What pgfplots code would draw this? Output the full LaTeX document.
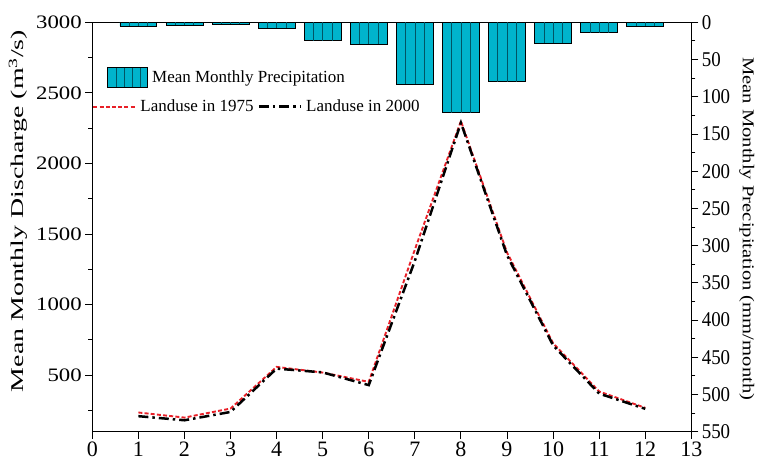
\documentclass[border=0pt]{standalone}
\usepackage{fontspec}
\setmainfont{Liberation Serif}
\newfontfamily\stA{Liberation Serif}[FakeStretch=1.2]
\newfontfamily\stL{Liberation Serif}[FakeStretch=1.55]
\newfontfamily\stR{Liberation Serif}[FakeStretch=1.25]
\newfontfamily\stT{Liberation Serif}[FakeStretch=0.9]
\usepackage{pgfplots}
\pgfplotsset{compat=1.18}
\usepackage{pgfplotstable}
\definecolor{barcyan}{RGB}{0,180,204}
\definecolor{combcol}{RGB}{0,85,100}
\definecolor{lred}{RGB}{232,32,40}
\pgfplotsset{
  mybarlegend/.style={legend image code/.code={
    \path[draw=black, fill=barcyan, line width=0.7pt] (0pt,-10pt) rectangle (40pt,10pt);
    \path[draw=combcol, fill=none, line width=0.6pt] (8pt,-9.6pt) -- (8pt,9.6pt) (16pt,-9.6pt) -- (16pt,9.6pt)
      (24pt,-9.6pt) -- (24pt,9.6pt) (32pt,-9.6pt) -- (32pt,9.6pt);}},
  mylinelegend/.style={legend image code/.code={\draw[##1] (0pt,0pt) -- (42pt,0pt);}},
}
\pgfplotstableread{
m p
1 5
2 3.6
3 2.3
4 7.7
5 24.7
6 29
7 83.3
8 121.4
9 79.8
10 28.2
11 14
12 5
}\precip
\pgfplotstableread{
m a b
1 236 210
2 200 181
3 264 240
4 559 547
5 519 520
6 453 430
7 1390 1310
8 2300 2288
9 1370 1350
10 727 712
11 385 370
12 269 262
}\flow
\begin{document}
\begin{tikzpicture}
\pgfplotsset{
  base/.style={
    width=599pt, height=409.4pt, scale only axis,
    xmin=0, xmax=13,
    tick align=outside,
    major tick length=7pt, minor tick length=4pt,
    every tick/.style={black, line width=0.9pt},
    axis line style={line width=1pt},
    /pgf/number format/assume math mode=true,
    /pgf/number format/1000 sep={},
  }
}
\begin{axis}[base,
  ymin=100, ymax=3000,
  xtick pos=bottom, ytick pos=left,
  xtick={0,...,13},
  ytick={500,1000,...,3000}, minor ytick={250,750,...,2750},
  xticklabel style={font=\fontsize{22}{24}\selectfont},
  yticklabel style={font=\stA\fontsize{19}{22}\selectfont},
  ylabel={\stL\fontsize{18}{20}\selectfont Mean Monthly Discharge (m\textsuperscript{3}/s)},
  ylabel style={at={(axis description cs:-0.124,0.539)}, anchor=center},
  legend style={at={(axis description cs:0.0,0.794)}, anchor=west, draw=none, fill=none,
    legend columns=2, font=\fontsize{17}{19}\selectfont, inner sep=0pt,
    nodes={inner sep=0pt},
    /tikz/every odd column/.style={column sep=4pt},
    /tikz/every even column/.style={column sep=4pt}},
]
\addplot[draw=lred, line width=1.9pt, dash pattern=on 4pt off 2.2pt, mylinelegend] table[x=m,y=a]{\flow};
\addlegendentry{Landuse in 1975}
\addplot[draw=black, line width=2.5pt, dash pattern=on 10pt off 4pt on 2.5pt off 4pt, mylinelegend] table[x=m,y=b]{\flow};
\addlegendentry{Landuse in 2000}
\end{axis}
\begin{axis}[base,
  axis x line=none, axis y line*=right,
  ymin=0, ymax=550, y dir=reverse,
  ytick={0,50,...,550}, minor ytick={25,75,...,525},
  yticklabel style={font=\stT\fontsize{21}{23}\selectfont},
  ylabel={\stR\fontsize{16.5}{19}\selectfont Mean Monthly Precipitation (mm/month)},
  ylabel style={rotate=180, at={(axis description cs:1.0925,0.496)}, anchor=center},
  legend style={at={(axis description cs:0.025,0.8657)}, anchor=west, draw=none, fill=none,
    font=\fontsize{17}{19}\selectfont, inner sep=0pt, nodes={inner sep=0pt},
    /tikz/every odd column/.style={column sep=4pt}},
]
\addplot[ybar, bar width=0.8, fill=barcyan, draw=black, line width=0.7pt, mybarlegend] table[x=m,y=p]{\precip};
\addlegendentry{Mean Monthly Precipitation}
\addplot[ycomb, draw=combcol, line width=0.6pt, forget plot] table[x expr=\thisrow{m}-0.2, y=p]{\precip};
\addplot[ycomb, draw=combcol, line width=0.6pt, forget plot] table[x=m, y=p]{\precip};
\addplot[ycomb, draw=combcol, line width=0.6pt, forget plot] table[x expr=\thisrow{m}+0.2, y=p]{\precip};
\end{axis}
\pgfresetboundingbox
\path (-92.3pt,-33.3pt) rectangle (666.7pt,431.7pt);
\end{tikzpicture}
\end{document}
